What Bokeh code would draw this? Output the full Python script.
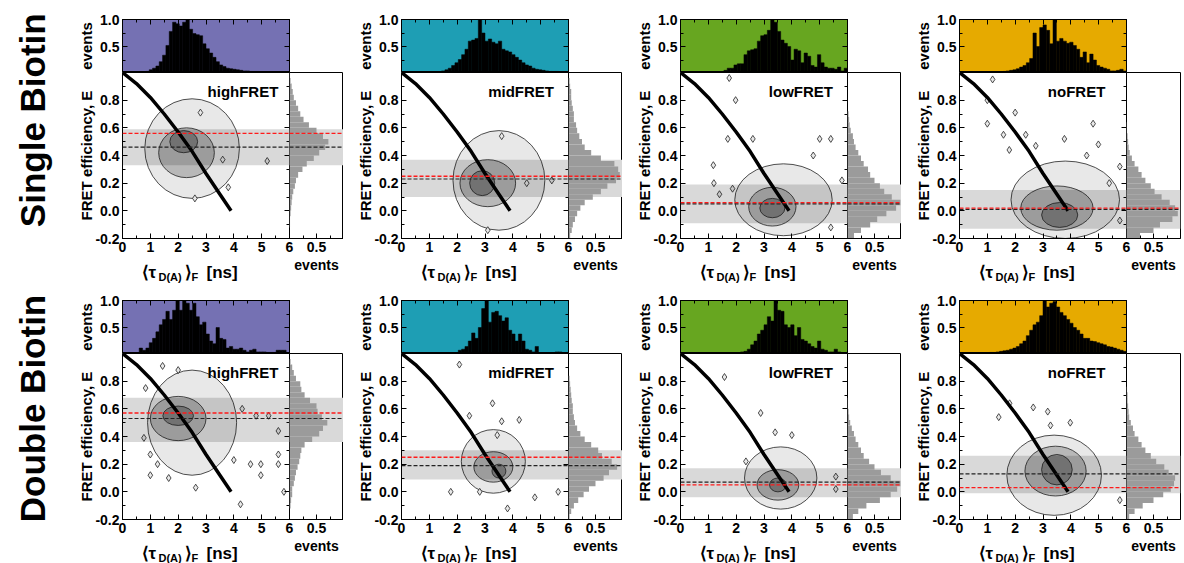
import math
from bokeh.plotting import figure
from bokeh.layouts import row, column
from bokeh.models import (FixedTicker, PrintfTickFormatter, Label, Range1d, Span,
                          BoxAnnotation, LinearAxis)
from bokeh.embed import file_html
from bokeh.resources import INLINE
from bokeh.core.properties import value

# ------------------------------------------------------------------ data
TAU_BIN = 0.12          # lifetime bin width [ns]; 50 bins from 0 to 6 ns
E_BIN = 0.04            # FRET-efficiency bin width; 30 bins from -0.2 to 1.0
E_START = -0.2

row_titles = ["Single Biotin", "Double Biotin"]
species = ["highFRET", "midFRET", "lowFRET", "noFRET"]
species_colors = ["#7571b3", "#1e9eb4", "#67a620", "#e6aa00"]

# lifetime histograms (normalised events)
tau_single_high = [0, 0, 0, 0, 0, 0.01, 0.02, 0.04, 0.07, 0.10,
                   0.14, 0.22, 0.34, 0.52, 0.78, 0.95, 0.92, 0.88, 0.95, 1.00,
                   0.82, 0.74, 0.72, 0.70, 0.55, 0.46, 0.38, 0.30, 0.22, 0.16,
                   0.13, 0.10, 0.09, 0.08, 0.07, 0.06, 0.05, 0.05, 0.04, 0.04,
                   0.04, 0.03, 0.03, 0.03, 0.02, 0.02, 0.02, 0.02, 0.01, 0]
tau_single_mid = [0, 0, 0, 0, 0, 0, 0, 0, 0, 0,
                  0, 0.03, 0.05, 0.07, 0.10, 0.15, 0.20, 0.26, 0.35, 0.45,
                  0.60, 0.62, 0.65, 1.00, 0.75, 0.60, 0.64, 0.58, 0.55, 0.60,
                  0.45, 0.42, 0.40, 0.35, 0.30, 0.25, 0.20, 0.16, 0.14, 0.10,
                  0.08, 0.07, 0.06, 0.05, 0.04, 0.04, 0.04, 0.03, 0.03, 0.02]
tau_single_low = [0, 0, 0, 0, 0, 0, 0, 0, 0.03, 0.03,
                  0.03, 0.03, 0.03, 0.06, 0.10, 0.10, 0.16, 0.18, 0.18, 0.35,
                  0.42, 0.44, 0.46, 0.60, 0.70, 0.72, 0.80, 1.00, 0.95, 0.78,
                  0.62, 0.56, 0.50, 0.25, 0.45, 0.42, 0.20, 0.38, 0.32, 0.15,
                  0.12, 0.35, 0.20, 0.12, 0.10, 0.10, 0.08, 0.12, 0.05, 0.10]
tau_single_no = [0, 0, 0, 0, 0, 0.02, 0.02, 0.02, 0.02, 0.02,
                 0.03, 0.03, 0.03, 0.04, 0.05, 0.06, 0.07, 0.09, 0.12, 0.15,
                 0.20, 0.28, 0.75, 0.50, 0.85, 0.90, 0.80, 0.55, 1.00, 0.60,
                 0.65, 0.60, 0.56, 0.58, 0.52, 0.45, 0.30, 0.40, 0.20, 0.36,
                 0.25, 0.15, 0.12, 0.10, 0.08, 0.05, 0.05, 0.06, 0.08, 0.05]
tau_double_high = [0, 0, 0, 0, 0, 0.12, 0.08, 0.12, 0.22, 0.30,
                   0.42, 0.55, 0.65, 0.80, 0.65, 0.82, 1.00, 0.82, 1.00, 0.95,
                   0.82, 0.95, 0.70, 0.55, 0.60, 0.38, 0.25, 0.20, 0.50, 0.30,
                   0.28, 0.12, 0.15, 0.10, 0.10, 0.12, 0.08, 0.05, 0.08, 0.10,
                   0.05, 0.05, 0.05, 0.04, 0.04, 0.04, 0.08, 0.08, 0.08, 0]
tau_double_mid = [0, 0, 0, 0, 0, 0, 0, 0, 0, 0,
                  0, 0, 0, 0, 0, 0.03, 0.03, 0.08, 0.10, 0.15,
                  0.25, 0.40, 0.30, 0.50, 0.85, 1.00, 0.60, 0.78, 0.80, 0.72,
                  0.62, 0.68, 0.45, 0.38, 0.25, 0.38, 0.25, 0.10, 0.08, 0.05,
                  0.15, 0.03, 0.03, 0, 0, 0, 0.05, 0.05, 0, 0]
tau_double_low = [0, 0, 0, 0, 0, 0, 0, 0, 0, 0,
                  0, 0, 0, 0, 0, 0, 0.03, 0.03, 0.05, 0.06,
                  0.10, 0.18, 0.25, 0.38, 0.45, 0.55, 0.70, 0.62, 1.00, 0.82,
                  0.80, 0.55, 0.50, 0.55, 0.35, 0.50, 0.28, 0.25, 0.20, 0.15,
                  0.12, 0.25, 0.10, 0.08, 0.05, 0.05, 0.10, 0.05, 0.03, 0]
tau_double_no = [0, 0, 0, 0, 0.02, 0.02, 0.03, 0.03, 0.03, 0.04,
                 0.04, 0.05, 0.06, 0.07, 0.08, 0.10, 0.12, 0.15, 0.20, 0.25,
                 0.35, 0.45, 0.55, 0.60, 0.72, 1.00, 0.88, 0.95, 0.98, 0.88,
                 0.78, 0.72, 0.65, 0.58, 0.50, 0.45, 0.38, 0.30, 0.30, 0.25,
                 0.24, 0.22, 0.20, 0.18, 0.15, 0.14, 0.12, 0.10, 0.08, 0.06]

# FRET-efficiency histograms (normalised events)
E_single_high = [0, 0, 0.01, 0.01, 0.02, 0.03, 0.04, 0.05, 0.07, 0.10,
                 0.12, 0.16, 0.24, 0.32, 0.45, 0.55, 0.66, 0.72, 0.62, 0.50,
                 0.36, 0.26, 0.20, 0.16, 0.12, 0.08, 0.06, 0.04, 0.02, 0.01]
E_single_mid = [0.03, 0.06, 0.08, 0.12, 0.16, 0.22, 0.30, 0.45, 0.60, 0.72,
                0.88, 0.95, 0.92, 0.85, 0.60, 0.42, 0.30, 0.25, 0.20, 0.16,
                0.14, 0.10, 0.10, 0.08, 0.06, 0.05, 0.05, 0.03, 0.02, 0]
E_single_low = [0.12, 0.25, 0.42, 0.55, 0.72, 0.90, 0.98, 0.82, 0.68, 0.60,
                0.50, 0.42, 0.38, 0.30, 0.25, 0.20, 0.15, 0.12, 0.10, 0.06,
                0.04, 0.03, 0.02, 0, 0, 0, 0, 0, 0, 0]
E_single_no = [0.25, 0.50, 0.62, 0.85, 0.95, 0.90, 0.80, 0.65, 0.52, 0.45,
               0.35, 0.28, 0.22, 0.15, 0.10, 0.06, 0.04, 0.03, 0.02, 0.01,
               0.01, 0, 0, 0, 0, 0, 0, 0, 0, 0]
E_double_high = [0, 0, 0.02, 0.03, 0.05, 0.05, 0.08, 0.10, 0.12, 0.15,
                 0.18, 0.20, 0.22, 0.28, 0.42, 0.55, 0.62, 0.70, 0.60, 0.52,
                 0.50, 0.38, 0.28, 0.22, 0.20, 0.12, 0.08, 0.05, 0.02, 0]
E_double_mid = [0.02, 0.05, 0.10, 0.18, 0.28, 0.38, 0.50, 0.65, 0.75, 0.90,
                0.80, 0.62, 0.55, 0.42, 0.30, 0.22, 0.16, 0.12, 0.10, 0.08,
                0.08, 0.06, 0.05, 0.04, 0.03, 0.02, 0, 0, 0, 0]
E_double_low = [0.10, 0.20, 0.35, 0.60, 0.80, 0.92, 0.98, 0.80, 0.62, 0.50,
                0.40, 0.30, 0.25, 0.20, 0.15, 0.12, 0.08, 0.05, 0.03, 0.02,
                0.01, 0.01, 0, 0, 0, 0, 0, 0, 0, 0]
E_double_no = [0.05, 0.15, 0.30, 0.50, 0.68, 0.82, 0.88, 0.90, 0.78, 0.70,
               0.55, 0.45, 0.35, 0.28, 0.22, 0.15, 0.12, 0.08, 0.05, 0.04,
               0.03, 0.02, 0.02, 0.01, 0, 0, 0, 0, 0, 0]

# order: single high, mid, low, no, double high, mid, low, no
tau_hists = [tau_single_high, tau_single_mid, tau_single_low, tau_single_no,
             tau_double_high, tau_double_mid, tau_double_low, tau_double_no]
E_hists = [E_single_high, E_single_mid, E_single_low, E_single_no,
           E_double_high, E_double_mid, E_double_low, E_double_no]

# shaded E ranges and mean E lines
band_lo = [0.33, 0.10, -0.09, -0.13, 0.36, 0.09, -0.04, -0.01]
band_hi = [0.59, 0.37, 0.19, 0.15, 0.68, 0.30, 0.17, 0.26]
E_red = [0.56, 0.25, 0.06, 0.02, 0.57, 0.25, 0.05, 0.03]
E_black = [0.46, 0.23, 0.05, 0.01, 0.53, 0.19, 0.07, 0.13]

# contour levels (approximated as ellipses)
outer_cx = [2.5, 3.5, 3.7, 3.8, 2.5, 3.3, 3.6, 3.4]
outer_cy = [0.45, 0.22, 0.08, 0.08, 0.50, 0.22, 0.10, 0.12]
outer_w = [3.4, 3.3, 3.5, 3.9, 3.2, 2.3, 2.6, 3.4]
outer_h = [0.72, 0.72, 0.52, 0.56, 0.76, 0.46, 0.45, 0.58]
mid_cx = [2.3, 3.1, 3.3, 3.5, 2.0, 3.3, 3.5, 3.45]
mid_cy = [0.42, 0.20, 0.03, 0.02, 0.53, 0.18, 0.05, 0.15]
mid_w = [2.0, 2.0, 1.7, 2.6, 2.0, 1.4, 1.5, 2.2]
mid_h = [0.36, 0.34, 0.28, 0.32, 0.32, 0.22, 0.22, 0.36]
inner_cx = [2.2, 2.9, 3.3, 3.6, 2.0, 3.5, 3.5, 3.5]
inner_cy = [0.50, 0.20, 0.02, -0.03, 0.55, 0.15, 0.05, 0.16]
inner_w = [1.0, 0.9, 0.9, 1.3, 1.1, 0.5, 0.6, 1.1]
inner_h = [0.16, 0.18, 0.14, 0.18, 0.14, 0.10, 0.10, 0.22]

# isolated single-bin contour islands
island_x = [[2.6, 3.8, 5.2, 3.6, 2.8],
            [3.6, 3.1, 4.5, 5.4],
            [1.75, 1.98, 2.6, 1.7, 5.0, 5.4, 4.77, 1.18, 1.2, 1.4, 1.87, 5.8, 5.4],
            [1.19, 1.0, 2.0, 1.0, 4.8, 1.58, 2.38, 3.77, 4.99, 1.79, 2.74, 4.57, 5.76, 5.38, 5.76],
            [1.44, 0.83, 2.0, 1.0, 1.26, 1.0, 1.66, 2.63, 4.24, 4.0, 4.6, 4.97, 5.6, 4.97, 5.6,
             4.8, 5.25, 5.6, 5.8, 4.3, 0.77],
            [2.08, 2.44, 3.27, 3.6, 4.23, 3.44, 1.77, 2.81, 4.79, 5.63, 3.81],
            [1.58, 2.88, 3.4, 4.0, 2.35, 5.58, 5.58],
            [1.41, 1.8, 2.65, 3.17, 3.98, 3.27, 5.76]]
island_y = [[0.09, 0.17, 0.36, 0.37, 0.71],
            [0.54, -0.14, 0.2, 0.22],
            [0.96, 0.8, 0.52, 0.52, 0.52, 0.52, 0.4, 0.33, 0.2, 0.12, 0.16, 0.22, -0.12],
            [0.95, 0.8, 0.71, 0.63, 0.63, 0.55, 0.55, 0.52, 0.48, 0.44, 0.47, 0.4, 0.32, 0.2, -0.07],
            [0.91, 0.75, 0.88, 0.27, 0.2, 0.12, 0.1, 0.03, -0.09, 0.23, 0.2, 0.2, 0.2, 0.12, 0.27,
             0.55, 0.55, 0.44, 0.0, 0.6, 0.39],
            [0.92, 0.55, 0.64, 0.51, 0.52, 0.41, 0.0, 0.0, -0.04, 0.0, -0.12],
            [0.83, 0.57, 0.43, 0.41, 0.22, 0.11, 0.02],
            [0.54, 0.64, 0.61, 0.58, 0.5, 0.48, -0.06]]

# static FRET line
line_tau = [0.0, 0.5, 1.0, 1.5, 2.0, 2.5, 3.0, 3.5, 3.9]
line_E = [1.0, 0.92, 0.82, 0.70, 0.57, 0.43, 0.27, 0.12, 0.0]

label_x = [5.6, 5.48, 5.48, 5.24]

# x-axis title pieces: (text, x offset [px], baseline shift [px], font size [px])
xtitle_pieces = [("⟨", 19, 0, 17), ("τ", 26, 0, 17), ("D(A)", 36, -4, 11),
                 ("⟩", 62, 0, 17), ("F", 69, -4, 11), ("[ns]", 84, 0, 17)]

# ------------------------------------------------------------------ styling
FONT = "Liberation Sans"
MAIN_W, MAIN_H, TOP_H, SIDE_W = 167, 166, 53, 54
LEFT = 58
OVER = 8               # main plot's right border that the side histogram overlaps
ROW_T = [19, 8]
ROW_B = [54, 44]
TICK_B = 22            # space under the main frame for tick labels
LABEL_W = 64


def style_axis(ax, tick_size="14px"):
    ax.major_label_text_font = FONT
    ax.major_label_text_font_style = "bold"
    ax.major_label_text_font_size = tick_size
    ax.major_label_text_color = "black"
    ax.axis_label_text_font = FONT
    ax.axis_label_text_font_style = "bold"
    ax.axis_label_text_font_size = "15px"
    ax.axis_label_text_color = "black"
    ax.major_tick_in = 5
    ax.major_tick_out = 0
    ax.minor_tick_in = 3
    ax.minor_tick_out = 0
    ax.axis_line_color = "black"
    ax.major_tick_line_color = "black"
    ax.minor_tick_line_color = "black"
    ax.major_label_standoff = 3
    ax.axis_label_standoff = 2


def ticks_only(ticker):
    ax = LinearAxis(ticker=ticker)
    style_axis(ax)
    ax.major_label_text_font_size = "0px"
    ax.major_label_text_color = None
    ax.major_label_standoff = 0
    return ax


def base_fig(**kw):
    p = figure(output_backend="svg", toolbar_location=None, tools="", **kw)
    p.grid.visible = False
    p.outline_line_color = "black"
    p.outline_line_width = 1
    p.outline_line_alpha = 1
    return p


def make_panel(r, c):
    i = r * 4 + c
    T, B = ROW_T[r], ROW_B[r]
    R = 0 if c < 3 else 6

    # ---- top lifetime histogram
    th = base_fig(frame_width=MAIN_W, frame_height=TOP_H,
                  x_range=Range1d(0, 6), y_range=Range1d(0.02, 1.0),
                  x_axis_location=None,
                  min_border_left=LEFT, min_border_right=SIDE_W + R,
                  min_border_top=T, min_border_bottom=0,
                  background_fill_color=species_colors[c], border_fill_color="white")
    centers = [TAU_BIN * (k + 0.5) for k in range(len(tau_hists[i]))]
    th.vbar(x=centers, top=tau_hists[i], bottom=0, width=TAU_BIN,
            fill_color="black", line_color="black", line_width=0.5)
    th.yaxis.ticker = FixedTicker(ticks=[0.5, 1.0], minor_ticks=[0.25, 0.75])
    th.yaxis.formatter = PrintfTickFormatter(format="%.1f")
    th.yaxis.axis_label = "events"
    style_axis(th.yaxis[0])
    th.add_layout(ticks_only(FixedTicker(ticks=[0.5, 1.0], minor_ticks=[0.25, 0.75])), "right")
    th.add_layout(ticks_only(FixedTicker(ticks=[0, 1, 2, 3, 4, 5, 6],
                                         minor_ticks=[0.5, 1.5, 2.5, 3.5, 4.5, 5.5])), "above")

    # ---- main 2D plot
    mp = base_fig(frame_width=MAIN_W, frame_height=MAIN_H,
                  x_range=Range1d(0, 6), y_range=Range1d(-0.2, 1.0),
                  min_border_left=LEFT, min_border_right=OVER,
                  min_border_top=0, min_border_bottom=TICK_B,
                  border_fill_color=None)
    levels = [(outer_cx, outer_cy, outer_w, outer_h, "#e8e8e8"),
              (mid_cx, mid_cy, mid_w, mid_h, "#b8b8b8"),
              (inner_cx, inner_cy, inner_w, inner_h, "#878787")]
    for cx, cy, w, h, col in levels:
        mp.ellipse(x=[cx[i]], y=[cy[i]], width=[w[i]], height=[h[i]],
                   fill_color=col, line_color="#222222", line_width=0.8)
    mp.scatter(x=island_x[i], y=island_y[i], marker="diamond", size=7,
               fill_color="#e8e8e8", line_color="#222222", line_width=0.8)
    mp.add_layout(BoxAnnotation(bottom=band_lo[i], top=band_hi[i], fill_color="black",
                                fill_alpha=0.15, line_color=None, level="glyph"))
    mp.line(x=line_tau, y=line_E, line_width=3.5, line_color="black")
    mp.add_layout(Span(location=E_black[i], dimension="width", line_color="#222222",
                       line_dash="4 2", line_width=1.2))
    mp.add_layout(Span(location=E_red[i], dimension="width", line_color="#ff1a1a",
                       line_dash="4 2", line_width=1.3))
    mp.add_layout(Label(x=label_x[c], y=0.865, text=species[c], text_align="right",
                        text_baseline="middle", text_font=FONT, text_color="black",
                        text_font_style="bold", text_font_size="15px"))
    mp.xaxis.ticker = FixedTicker(ticks=[0, 1, 2, 3, 4, 5, 6],
                                  minor_ticks=[0.5, 1.5, 2.5, 3.5, 4.5, 5.5])
    mp.xaxis.formatter = PrintfTickFormatter(format="%d")
    mp.yaxis.ticker = FixedTicker(ticks=[-0.2, 0.0, 0.2, 0.4, 0.6, 0.8],
                                  minor_ticks=[-0.1, 0.1, 0.3, 0.5, 0.7, 0.9])
    mp.yaxis.formatter = PrintfTickFormatter(format="%.1f")
    mp.yaxis.axis_label = "FRET efficiency, E"
    style_axis(mp.xaxis[0])
    style_axis(mp.yaxis[0])
    mp.yaxis.axis_label_standoff = -3
    mp.add_layout(ticks_only(FixedTicker(ticks=[-0.2, 0.0, 0.2, 0.4, 0.6, 0.8],
                                         minor_ticks=[-0.1, 0.1, 0.3, 0.5, 0.7, 0.9])), "right")

    # ---- x-axis title strip under the main frame: ⟨τD(A)⟩F [ns]
    HL = B - TICK_B
    xl = figure(frame_width=MAIN_W, frame_height=HL, output_backend="svg",
                toolbar_location=None, tools="",
                min_border_left=LEFT, min_border_right=OVER,
                min_border_top=0, min_border_bottom=0,
                x_range=Range1d(0, MAIN_W), y_range=Range1d(0, HL),
                x_axis_location=None, y_axis_location=None, border_fill_color=None,
                background_fill_color=None)
    xl.grid.visible = False
    xl.outline_line_color = None
    base_y = HL - 12
    for t, dx, dy, fs in xtitle_pieces:
        xl.add_layout(Label(x=dx, y=base_y + dy, text=t,
                            text_font=FONT, text_font_style="bold", text_color="black",
                            text_font_size=f"{fs}px", text_baseline="alphabetic",
                            text_align="left"))

    # ---- right FRET-efficiency histogram
    rh = base_fig(frame_width=SIDE_W, frame_height=MAIN_H,
                  x_range=Range1d(0, 1.0), y_range=Range1d(-0.2, 1.0),
                  y_axis_location=None,
                  min_border_left=0, min_border_right=R,
                  min_border_top=0, min_border_bottom=B,
                  border_fill_color=None, background_fill_color=None)
    rh.add_layout(BoxAnnotation(bottom=band_lo[i], top=band_hi[i], fill_color="#d9d9d9",
                                fill_alpha=1, line_color=None, level="underlay"))
    ecent = [E_START + E_BIN * (k + 0.5) for k in range(len(E_hists[i]))]
    rh.hbar(y=ecent, right=E_hists[i], left=0, height=E_BIN,
            fill_color="#9b9b9b", line_color=None)
    rh.add_layout(Span(location=E_black[i], dimension="width", line_color="#222222",
                       line_dash="4 2", line_width=1.2))
    rh.add_layout(Span(location=E_red[i], dimension="width", line_color="#ff1a1a",
                       line_dash="4 2", line_width=1.3))
    rh.xaxis.ticker = FixedTicker(ticks=[0.5], minor_ticks=[0.25, 0.75])
    rh.xaxis.formatter = PrintfTickFormatter(format="%.1f")
    rh.xaxis.axis_label = "events"
    style_axis(rh.xaxis[0])
    rh.xaxis.axis_label_text_font_size = "14px"

    left_block = column(mp, xl, margin=(0, -OVER, 0, 0))
    return column(th, row(left_block, rh))


def make_row_label(r):
    H = ROW_T[r] + TOP_H + MAIN_H + ROW_B[r]
    lf = figure(width=LABEL_W, height=H, output_backend="svg", toolbar_location=None,
                tools="", x_range=Range1d(0, 1), y_range=Range1d(0, 1),
                min_border=0, x_axis_location=None, y_axis_location=None)
    lf.grid.visible = False
    lf.outline_line_color = None
    ycen = [0.59, 0.572][r]
    lf.text(x=[0.5], y=[ycen], text=[row_titles[r]], angle=math.pi / 2,
            text_align="center", text_baseline="middle",
            text_font=value(FONT), text_font_style="bold", text_font_size="35px",
            text_color="black")
    return lf


rows = []
for r in range(2):
    rows.append(row(make_row_label(r), *[make_panel(r, c) for c in range(4)]))
p = column(*rows)

open("out.html", "w").write(file_html(p, INLINE))
